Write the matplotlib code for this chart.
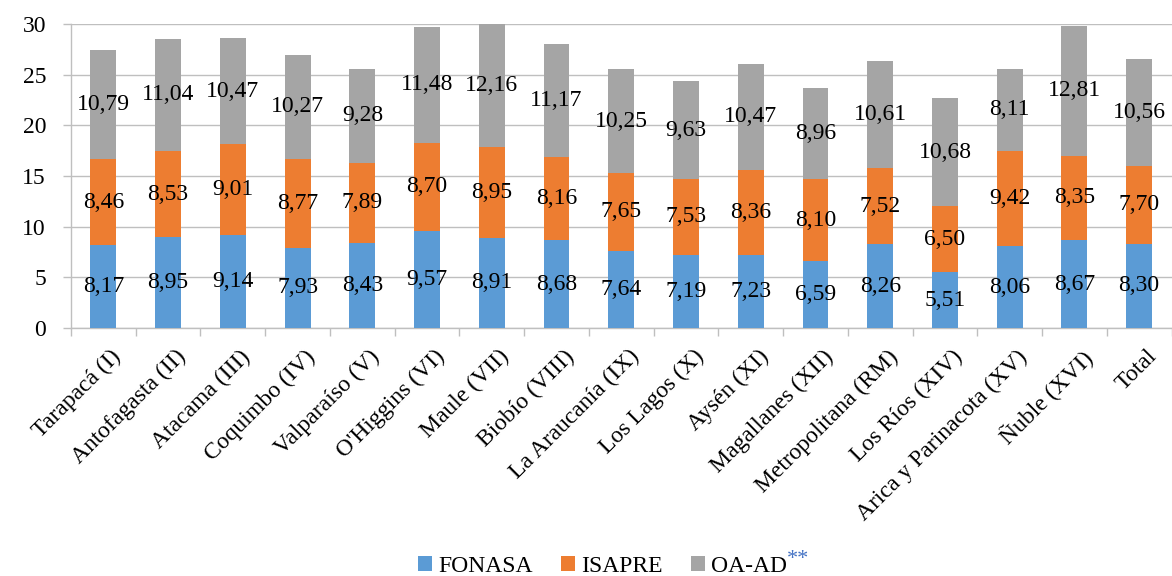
import matplotlib
matplotlib.use("Agg")
import matplotlib.pyplot as plt
import matplotlib.transforms as mtransforms
import numpy as np

categories = ["Tarapacá (I)", "Antofagasta (II)", "Atacama (III)", "Coquimbo (IV)",
              "Valparaíso (V)", "O'Higgins (VI)", "Maule (VII)", "Biobío (VIII)",
              "La Araucanía (IX)", "Los Lagos (X)", "Aysén (XI)", "Magallanes (XII)",
              "Metropolitana (RM)", "Los Ríos (XIV)", "Arica y Parinacota (XV)",
              "Ñuble (XVI)", "Total"]
fonasa = [8.17, 8.95, 9.14, 7.93, 8.43, 9.57, 8.91, 8.68, 7.64, 7.19, 7.23, 6.59, 8.26, 5.51, 8.06, 8.67, 8.30]
isapre = [8.46, 8.53, 9.01, 8.77, 7.89, 8.70, 8.95, 8.16, 7.65, 7.53, 8.36, 8.10, 7.52, 6.50, 9.42, 8.35, 7.70]
oaad = [10.79, 11.04, 10.47, 10.27, 9.28, 11.48, 12.16, 11.17, 10.25, 9.63, 10.47, 8.96, 10.61, 10.68, 8.11, 12.81, 10.56]
series_names = ["FONASA", "ISAPRE", "OA-AD"]
colors = ["#5B9BD5", "#ED7D31", "#A5A5A5"]
yticks = [0, 5, 10, 15, 20, 25, 30]

plt.rcParams['font.family'] = ['Liberation Serif', 'DejaVu Serif']

fig = plt.figure(figsize=(11.72, 5.76), dpi=100)
ax = fig.add_axes([0.0606, 0.4306, 0.939, 0.5277])

x = np.arange(len(categories))
bottom = np.zeros(len(categories))
for vals, name, col in zip([fonasa, isapre, oaad], series_names, colors):
    v = np.array(vals)
    ax.bar(x, v, 0.4, bottom=bottom, color=col, label=name, zorder=3)
    for xi, b, h in zip(x, bottom, v):
        ax.text(xi, b + h / 2, f"{h:.2f}".replace(".", ","), ha='center', va='center',
                fontsize=17, color='black', zorder=4)
    bottom = bottom + v

ax.set_xlim(-0.5, len(categories) - 0.5)
ax.set_ylim(0, 30)
ax.set_yticks(yticks)
ax.set_yticklabels([str(t) for t in yticks], fontsize=17)
ax.yaxis.grid(True, color='#BFBFBF', lw=1, zorder=0)
ax.set_axisbelow(True)

ax.set_xticks(x)
ax.set_xticklabels(categories, rotation=45, ha='right', rotation_mode='anchor', fontsize=17)
ax.tick_params(axis='x', which='major', length=0, pad=13)
shift = mtransforms.ScaledTranslation(7 / 100, 0, fig.dpi_scale_trans)
for lab in ax.get_xticklabels():
    lab.set_transform(lab.get_transform() + shift)
ax.set_xticks(np.arange(-0.5, len(categories), 1), minor=True)
ax.tick_params(axis='x', which='minor', length=6, color='#BFBFBF', width=1)
ax.tick_params(axis='y', length=6, color='#BFBFBF', width=1, pad=12)

for s in ['top', 'right']:
    ax.spines[s].set_visible(False)
for s in ['left', 'bottom']:
    ax.spines[s].set_color('#BFBFBF')
    ax.spines[s].set_linewidth(1)

leg = fig.legend(loc='center', bbox_to_anchor=(0.514, 0.0165), ncol=3, frameon=False,
                 fontsize=17, handlelength=0.6, handleheight=0.6, handletextpad=0.25,
                 columnspacing=1.2, borderpad=0, borderaxespad=0)

fig.canvas.draw()
t = leg.get_texts()[2]
bb = t.get_window_extent()
inv = fig.transFigure.inverted()
px, py = inv.transform((bb.x1 + 0, 12))
fig.text(px, py, "**", color='#4472C4', fontsize=16, ha='left', va='baseline')

fig.savefig("out.png", dpi=100)
